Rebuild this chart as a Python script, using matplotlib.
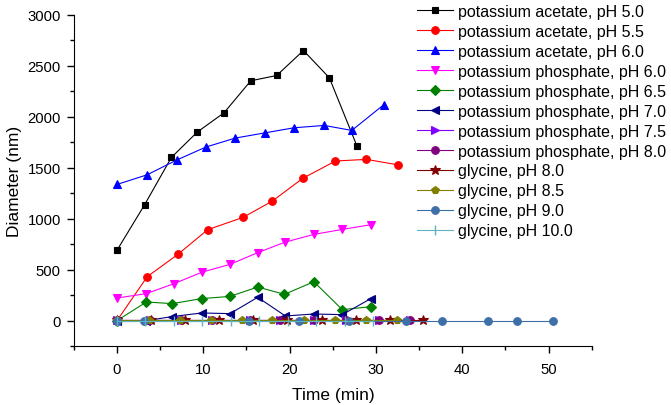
import matplotlib
matplotlib.use("Agg")
import matplotlib.pyplot as plt

plt.rcParams['font.family'] = ['Liberation Sans', 'DejaVu Sans']

# ---- data ----
ka50_x = [0, 3.2, 6.3, 9.3, 12.4, 15.5, 18.5, 21.6, 24.6, 27.8]
ka50_y = [690, 1137, 1601, 1850, 2039, 2353, 2405, 2650, 2382, 1712]

ka55_x = [0, 3.5, 7.1, 10.5, 14.6, 18.0, 21.5, 25.3, 28.9, 32.5]
ka55_y = [0, 431, 653, 892, 1013, 1173, 1395, 1566, 1582, 1529]

ka60_x = [0, 3.5, 6.9, 10.3, 13.7, 17.2, 20.5, 24.0, 27.2, 30.9]
ka60_y = [1336, 1431, 1575, 1703, 1791, 1843, 1892, 1915, 1866, 2118]

kp60_x = [0, 3.4, 6.6, 9.9, 13.1, 16.3, 19.5, 22.8, 26.1, 29.4]
kp60_y = [222, 265, 363, 477, 552, 667, 771, 846, 895, 941]

kp65_x = [0, 3.4, 6.4, 9.8, 13.1, 16.3, 19.4, 22.8, 26.1, 29.4]
kp65_y = [0, 183, 167, 216, 238, 330, 258, 382, 108, 137]

kp70_x = [0, 3.4, 6.4, 9.8, 13.1, 16.3, 19.5, 22.8, 26.1, 29.4]
kp70_y = [0, 0, 40, 75, 69, 229, 46, 65, 59, 216]

kp75_x = [0, 3.8, 7.4, 11.0, 15.4, 18.9, 22.8, 26.5, 30.3, 33.9]
kp75_y = [5, 5, 5, 5, 5, 5, 5, 5, 5, 5]

kp80_x = [0, 3.8, 7.4, 11.0, 15.4, 18.9, 22.8, 26.5, 30.3, 33.9]
kp80_y = [3, 3, 3, 3, 3, 3, 3, 3, 3, 3]

gly80_x = [0, 3.9, 7.9, 11.8, 15.8, 19.7, 23.7, 27.7, 31.6, 35.5]
gly80_y = [2, 2, 2, 2, 2, 2, 2, 2, 2, 2]

gly85_x = [0, 3.7, 7.3, 10.9, 14.5, 18.0, 21.7, 25.2, 28.9, 32.4]
gly85_y = [2, 2, 2, 2, 2, 2, 2, 2, 2, 2]

gly90_x = [0, 3.1, 15.3, 21.1, 26.9, 33.5, 37.7, 43.0, 46.3, 50.5]
gly90_y = [1, 1, 1, 1, 1, 1, 1, 1, 1, 1]

gly100_x = [0, 3.3, 6.6, 9.9, 13.2, 16.5, 19.8, 23.1, 26.4, 29.7]
gly100_y = [0, 0, 0, 0, 0, 0, 0, 0, 0, 0]

labels = ["potassium acetate, pH 5.0", "potassium acetate, pH 5.5",
          "potassium acetate, pH 6.0", "potassium phosphate, pH 6.0",
          "potassium phosphate, pH 6.5", "potassium phosphate, pH 7.0",
          "potassium phosphate, pH 7.5", "potassium phosphate, pH 8.0",
          "glycine, pH 8.0", "glycine, pH 8.5", "glycine, pH 9.0",
          "glycine, pH 10.0"]

series = [
    (ka50_x, ka50_y, '#000000', 's', 5.0),
    (ka55_x, ka55_y, '#ff0000', 'o', 5.5),
    (ka60_x, ka60_y, '#0000ff', '^', 6.0),
    (kp60_x, kp60_y, '#ff00ff', 'v', 6.0),
    (kp65_x, kp65_y, '#008000', 'D', 5.0),
    (kp70_x, kp70_y, '#000080', '<', 6.0),
    (kp75_x, kp75_y, '#8000ff', '>', 6.0),
    (kp80_x, kp80_y, '#800080', 'o', 5.5),
    (gly80_x, gly80_y, '#800000', '*', 7.0),
    (gly85_x, gly85_y, '#808000', 'p', 6.0),
    (gly90_x, gly90_y, '#3f6fa8', 'o', 5.5),
    (gly100_x, gly100_y, '#5fb3c3', '|', 7.0),
]

fig = plt.figure(figsize=(6.71, 4.06), dpi=100)
ax = fig.add_axes([0.110, 0.145, 0.772, 0.816])

for (x, y, c, m, ms), lab in zip(series, labels):
    ax.plot(x, y, color=c, marker=m, markersize=ms, linewidth=0.8,
            markeredgewidth=0.8 if m != '|' else 1.0, label=lab)

ax.set_xlim(-5, 55)
ax.set_ylim(-250, 3000)
ax.set_xticks([0, 10, 20, 30, 40, 50])
ax.set_xticks([-5, 5, 15, 25, 35, 45, 55], minor=True)
ax.set_yticks([0, 500, 1000, 1500, 2000, 2500, 3000])
ax.set_yticks([-250, 250, 750, 1250, 1750, 2250, 2750], minor=True)
ax.spines['top'].set_visible(False)
ax.spines['right'].set_visible(False)
ax.tick_params(which='major', direction='out', length=5, width=1, labelsize=10.7)
ax.tick_params(which='minor', direction='out', length=3, width=1)
ax.tick_params(axis='x', which='major', pad=6.5)
ax.tick_params(axis='y', which='major', pad=4.3)
ax.set_xlabel("Time (min)", fontsize=12.5, labelpad=7.5)
ax.set_ylabel("Diameter (nm)", fontsize=12.5)

fig.legend(loc='upper left', bbox_to_anchor=(0.622, 0.988), frameon=False,
           fontsize=11.5, handlelength=2.25, handletextpad=0.3,
           labelspacing=0.31, borderpad=0.0, borderaxespad=0.0)

fig.savefig("out.png", dpi=100)
